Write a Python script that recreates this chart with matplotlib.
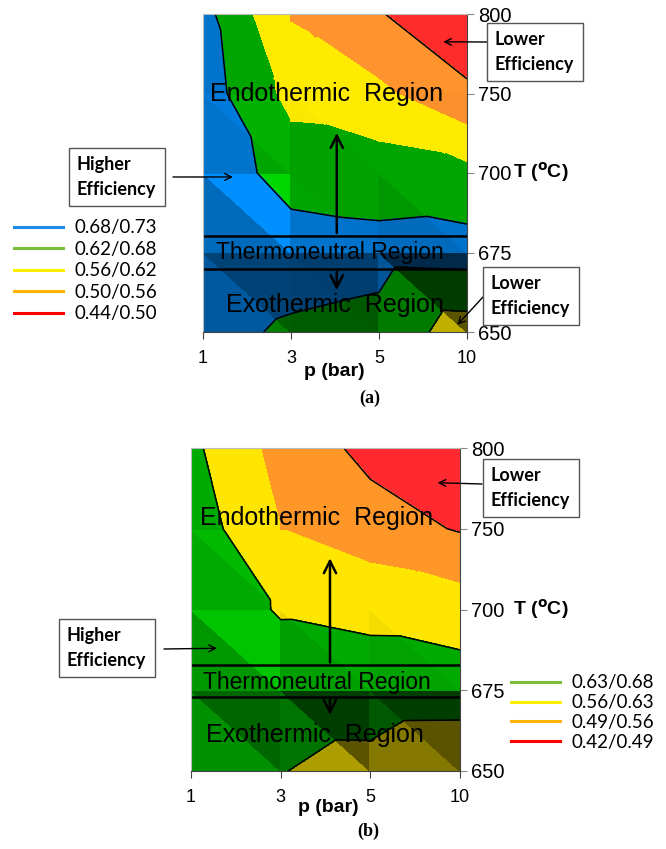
import numpy as np
import matplotlib
matplotlib.use("Agg")
import matplotlib.pyplot as plt
from matplotlib.tri import Triangulation
from matplotlib.colors import to_rgb, rgb_to_hsv, hsv_to_rgb
from matplotlib.lines import Line2D

W, H = 666, 849

pressure = ["1", "3", "5", "10"]
temperature = ["650", "675", "700", "750", "800"]

# efficiency: rows = T (650 -> 800), cols = p (1 -> 10 bar)
eff_a = np.array([
    [0.700, 0.671, 0.660, 0.590],
    [0.725, 0.710, 0.700, 0.705],
    [0.720, 0.655, 0.650, 0.635],
    [0.710, 0.600, 0.572, 0.509],
    [0.700, 0.555, 0.503, 0.460],
])
eff_b = np.array([
    [0.660, 0.632, 0.608, 0.570],
    [0.675, 0.665, 0.666, 0.665],
    [0.670, 0.625, 0.613, 0.595],
    [0.669, 0.560, 0.520, 0.485],
    [0.645, 0.535, 0.471, 0.440],
])

levels_a = [0.44, 0.50, 0.56, 0.62, 0.68, 0.73]
fill_a = ["#e62828", "#fa912d", "#ffeb00", "#00a500", "#0073cd"]
legend_labels_a = ["0.68/0.73", "0.62/0.68", "0.56/0.62", "0.50/0.56", "0.44/0.50"]
legend_colors_a = ["#1e8ce6", "#78be3c", "#fff000", "#ffb400", "#ff0000"]

levels_b = [0.42, 0.49, 0.56, 0.63, 0.68]
fill_b = ["#f0282d", "#ff9628", "#ffe600", "#00aa00"]
legend_labels_b = ["0.63/0.68", "0.56/0.63", "0.49/0.56", "0.42/0.49"]
legend_colors_b = ["#78be3c", "#fff000", "#ffb400", "#ff0000"]

SANS = ["Liberation Sans", "DejaVu Sans"]
CAL = ["Lato", "DejaVu Sans"]


def fpx(x, y):
    return x / W, 1 - y / H


def shade(color, f):
    h, s, v = rgb_to_hsv(np.array(to_rgb(color)))
    return hsv_to_rgb([h, s, min(1.0, v * f)])


def facet_factor(px, py, pz, s=10.0, light=(0.65, 0.55, 1.0)):
    # rough imitation of the 3D lighting of the original surface chart
    m = np.array([[px[1] - px[0], py[1] - py[0]], [px[2] - px[0], py[2] - py[0]]])
    gx, gy = np.linalg.solve(m, [pz[1] - pz[0], pz[2] - pz[0]])
    n = np.array([-s * gx, -s * gy, 1.0])
    n /= np.linalg.norm(n)
    L = np.array(light) / np.linalg.norm(light)
    cos = float(n @ L)
    dark = 1.5 * (min(cos, 0.9) - 0.9)
    ang = np.arccos(np.clip(cos, -1, 1))
    bright = 0.3 * max(0.0, 1 - ang / 0.33)
    return float(np.clip(1 + dark + bright, 0.36, 1.3))


def draw_surface(ax, z, levels, fills, outline, outline_low):
    ny, nx = z.shape
    X, Y = np.meshgrid(np.arange(nx), np.arange(ny))
    x, y, zz = X.ravel().astype(float), Y.ravel().astype(float), z.ravel()
    tris = []
    for j in range(ny - 1):
        for i in range(nx - 1):
            a, b, c, d = j * nx + i, j * nx + i + 1, (j + 1) * nx + i, (j + 1) * nx + i + 1
            tris += [[a, b, c], [b, d, c]]
    tris = np.array(tris)
    for t in tris:
        f = facet_factor(x[t], y[t], zz[t])
        cs = ax.tricontourf(Triangulation(x, y, triangles=[t]), zz, levels=levels,
                            colors=[shade(c, f) for c in fills])
        cs.set_edgecolor("face")
        cs.set_linewidth(0.5)
    full = Triangulation(x, y, triangles=tris)
    ax.tricontour(full, zz, levels=outline, colors="k", linewidths=1.1)
    if outline_low:
        low = Triangulation(x, y, triangles=tris)
        low.set_mask(y[tris].mean(axis=1) > 1)
        ax.tricontour(low, zz, levels=outline_low, colors="k", linewidths=1.1)


def style_axes(ax):
    ax.set_xlim(0, 3)
    ax.set_ylim(0, 4)
    ax.set_xticks(range(4))
    ax.set_xticklabels(pressure, fontsize=13, family=SANS)
    ax.yaxis.tick_right()
    ax.set_yticks(range(5))
    ax.set_yticklabels(temperature, fontsize=14.5, family=SANS)
    ax.tick_params(axis="x", length=5, pad=8, color="#444444")
    ax.tick_params(axis="y", length=5, pad=3, color="#888888")
    for side in ["left", "top"]:
        ax.spines[side].set_color("#bbbbbb")
        ax.spines[side].set_linewidth(0.8)
    for side in ["bottom", "right"]:
        ax.spines[side].set_color("#444444")
        ax.spines[side].set_linewidth(0.8)


def region_marks(ax, lo, hi, xa, up_to, down_to, ytexts, xtexts):
    ax.axhline(lo, color="k", lw=1.8)
    ax.axhline(hi, color="k", lw=1.8)
    arrow = dict(arrowstyle="->", lw=1.8, color="k", mutation_scale=22)
    ax.annotate("", xy=(xa, up_to), xytext=(xa, hi), arrowprops=arrow)
    ax.annotate("", xy=(xa, down_to), xytext=(xa, lo), arrowprops=arrow)
    ax.text(xtexts[0], ytexts[0], "Endothermic  Region", fontsize=18, family=SANS,
            ha="center", va="center")
    ax.text(xtexts[1], ytexts[1], "Thermoneutral Region", fontsize=16.5, family=SANS,
            ha="center", va="center")
    ax.text(xtexts[2], ytexts[2], "Exothermic  Region", fontsize=18, family=SANS,
            ha="center", va="center")


def callout(fig, ax, text, left, cy, start, tip):
    fig.text(*fpx(left, cy), text, fontsize=13, fontweight="bold", family=CAL,
             ha="left", va="center", linespacing=1.55,
             bbox=dict(boxstyle="square,pad=0.45", fc="white", ec="#555555", lw=1))
    ax.annotate("", xy=tip, xycoords="data", xytext=fpx(*start),
                textcoords="figure fraction", annotation_clip=False,
                arrowprops=dict(arrowstyle="->", lw=1, color="k", mutation_scale=12,
                                shrinkA=0, shrinkB=0))


fig = plt.figure(figsize=(W / 100, H / 100), dpi=100)

# ---- panel (a)
ax1 = fig.add_axes([203 / W, 1 - 332 / H, 264 / W, 318 / H])
draw_surface(ax1, eff_a, levels_a, fill_a, [0.50, 0.68], [0.62])
style_axes(ax1)
region_marks(ax1, 0.79, 1.21, 1.52, 2.54, 0.49, (3.0, 1.0, 0.34), (1.40, 1.44, 1.50))
callout(fig, ax1, "Higher\nEfficiency", 77, 177, (173, 177), (0.34, 1.95))
callout(fig, ax1, "Lower\nEfficiency", 495, 52, (487, 42), (2.73, 3.65))
callout(fig, ax1, "Lower\nEfficiency", 491, 296, (483, 297), (2.89, 0.09))
fig.text(*fpx(513, 172), "T ($\\mathbf{^{o}}$C)", fontsize=14, fontweight="bold",
         family=SANS, ha="left", va="center")
fig.text(*fpx(334, 372), "p (bar)", fontsize=14, fontweight="bold", family=SANS,
         ha="center", va="center")
fig.text(*fpx(370, 398), "(a)", fontsize=13, fontweight="bold",
         family=["Liberation Serif", "DejaVu Serif"], ha="center", va="center")
h_a = [Line2D([], [], color=c, lw=2.2) for c in legend_colors_a]
fig.legend(h_a, legend_labels_a, loc="upper left", bbox_to_anchor=fpx(5, 210),
           frameon=False, handlelength=2.6, labelspacing=0.24, borderpad=0,
           handletextpad=0.6, prop=dict(family=CAL, size=13.5))

# ---- panel (b)
ax2 = fig.add_axes([191 / W, 1 - 771 / H, 269 / W, 323 / H])
draw_surface(ax2, eff_b, levels_b, fill_b, [0.49, 0.63], [])
style_axes(ax2)
region_marks(ax2, 0.92, 1.31, 1.55, 2.67, 0.66, (3.13, 1.09, 0.45), (1.40, 1.40, 1.38))
callout(fig, ax2, "Higher\nEfficiency", 67, 648, (164, 649), (0.29, 1.52))
callout(fig, ax2, "Lower\nEfficiency", 491, 488, (482, 484), (2.75, 3.57))
fig.text(*fpx(513, 609), "T ($\\mathbf{^{o}}$C)", fontsize=14, fontweight="bold",
         family=SANS, ha="left", va="center")
fig.text(*fpx(328, 808), "p (bar)", fontsize=14, fontweight="bold", family=SANS,
         ha="center", va="center")
fig.text(*fpx(368, 831), "(b)", fontsize=13, fontweight="bold",
         family=["Liberation Serif", "DejaVu Serif"], ha="center", va="center")
h_b = [Line2D([], [], color=c, lw=2.2) for c in legend_colors_b]
fig.legend(h_b, legend_labels_b, loc="upper left", bbox_to_anchor=fpx(502, 665),
           frameon=False, handlelength=2.6, labelspacing=0.15, borderpad=0,
           handletextpad=0.6, prop=dict(family=CAL, size=13.5))

fig.savefig("out.png", dpi=100)
